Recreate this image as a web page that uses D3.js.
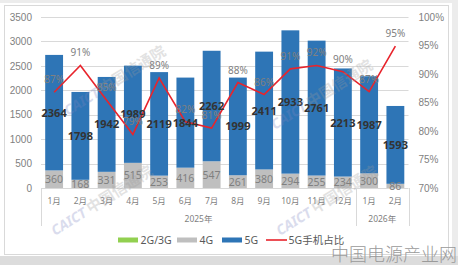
<!DOCTYPE html>
<html>
<head>
<meta charset="utf-8">
<script src="https://cdn.jsdelivr.net/npm/d3@7"></script>
<style>
  body { margin: 0; background: #fff; }
  svg { display: block; font-family: "Noto Sans", "Noto Sans CJK SC", sans-serif; }
</style>
</head>
<body>
<div id="chart"></div>
<script>
// data
const months = ["1月", "2月", "3月", "4月", "5月", "6月", "7月", "8月", "9月", "10月", "11月", "12月", "1月", "2月"];
const yearLabels = ["2025年", "2026年"];
const yearSpans = [[0, 11], [12, 13]];
const g23 = [0, 0, 0, 0, 0, 0, 0, 0, 0, 0, 0, 0, 0, 0];
const g4 = [360, 168, 331, 515, 253, 416, 547, 261, 380, 294, 255, 234, 300, 86];
const g5 = [2364, 1798, 1942, 1989, 2119, 1844, 2262, 1999, 2411, 2933, 2761, 2213, 1987, 1593];
const share = [86.8, 91.5, 85.4, 79.4, 89.3, 81.6, 80.5, 88.5, 86.4, 90.9, 91.5, 90.4, 86.9, 94.9];
const shareLabels = ["87%", "91%", "85%", "79%", "89%", "82%", "81%", "88%", "86%", "91%", "92%", "90%", "87%", "95%"];
const leftTicks = [0, 500, 1000, 1500, 2000, 2500, 3000, 3500];
const rightTicks = [70, 75, 80, 85, 90, 95, 100];
const legendNames = ["2G/3G", "4G", "5G", "5G手机占比"];

const W = 458, H = 265;
const colors = { g23: "#92d050", g4: "#bfbfbf", g5: "#2e75b6", line: "#e8242c" };

const svg = d3.select("#chart").append("svg")
    .attr("width", W)
    .attr("height", H);

// frame
svg.append("rect").attr("x", 0).attr("y", 0).attr("width", W).attr("height", H).attr("fill", "#ececec");
svg.append("rect").attr("x", 0).attr("y", 3).attr("width", 452).attr("height", 253).attr("fill", "#fff");
svg.append("rect").attr("x", 4.5).attr("y", 5.5).attr("width", 444).attr("height", 249)
    .attr("fill", "none").attr("stroke", "#d9d9d9");
svg.append("rect").attr("x", 0).attr("y", 256).attr("width", W).attr("height", 9).attr("fill", "#dcdcdc");

const x = d3.scaleBand()
    .domain(d3.range(months.length))
    .range([41, 408.5])
    .paddingInner(0.32)
    .paddingOuter(0.16);

const y = d3.scaleLinear()
    .domain([0, 3500])
    .range([188, 17]);

const y2 = d3.scaleLinear()
    .domain([70, 100])
    .range([188, 17]);

// gridlines
svg.append("g")
    .selectAll("line")
    .data(leftTicks.slice(1))
    .enter()
    .append("line")
    .attr("x1", 41).attr("x2", 408.5)
    .attr("y1", d => Math.round(y(d)) + 0.5)
    .attr("y2", d => Math.round(y(d)) + 0.5)
    .attr("stroke", "#d9d9d9");

// left axis
const leftAxis = svg.append("g")
    .attr("transform", "translate(41,0)")
    .call(d3.axisLeft(y).tickValues(leftTicks).tickSize(0).tickPadding(9).tickFormat(d3.format("d")));
leftAxis.select(".domain").remove();
leftAxis.selectAll("text").attr("fill", "#7f7f7f").style("font-size", "10px");

// right axis
const rightAxis = svg.append("g")
    .attr("transform", "translate(408.5,0)")
    .call(d3.axisRight(y2).tickValues(rightTicks).tickSize(0).tickPadding(10).tickFormat(d => d + "%"));
rightAxis.select(".domain").remove();
rightAxis.selectAll("text").attr("fill", "#7f7f7f").style("font-size", "10px");

// stacked bars
const stackData = months.map((m, i) => ({ i: i, g23: g23[i], g4: g4[i], g5: g5[i] }));
const stack = d3.stack().keys(["g23", "g4", "g5"])(stackData);

svg.append("g")
    .selectAll("g")
    .data(stack)
    .enter()
    .append("g")
    .attr("fill", d => colors[d.key])
    .selectAll("rect")
    .data(d => d)
    .enter()
    .append("rect")
    .attr("x", d => x(d.data.i))
    .attr("y", d => y(d[1]))
    .attr("width", x.bandwidth())
    .attr("height", d => y(d[0]) - y(d[1]));

// x axis base line
svg.append("line")
    .attr("x1", 41).attr("x2", 408.5)
    .attr("y1", 188.5).attr("y2", 188.5)
    .attr("stroke", "#d9d9d9");

// group separators
const seps = [41, x(12) - x.step() * x.paddingInner() / 2, 408.5];
svg.append("g")
    .selectAll("line")
    .data(seps)
    .enter()
    .append("line")
    .attr("x1", d => Math.round(d) + 0.5).attr("x2", d => Math.round(d) + 0.5)
    .attr("y1", 188).attr("y2", 226)
    .attr("stroke", "#d9d9d9");

// month labels
svg.append("g")
    .selectAll("text")
    .data(months)
    .enter()
    .append("text")
    .attr("x", (d, i) => x(i) + x.bandwidth() / 2)
    .attr("y", 204)
    .attr("text-anchor", "middle")
    .attr("fill", "#7f7f7f")
    .style("font-size", "8.5px")
    .text(d => d);

// year labels
svg.append("g")
    .selectAll("text")
    .data(yearLabels)
    .enter()
    .append("text")
    .attr("x", (d, k) => (x(yearSpans[k][0]) + x(yearSpans[k][1]) + x.bandwidth()) / 2)
    .attr("y", 222)
    .attr("text-anchor", "middle")
    .attr("fill", "#7f7f7f")
    .style("font-size", "8.5px")
    .text(d => d);

// 5G share line
const line = d3.line()
    .x((d, i) => x(i) + x.bandwidth() / 2)
    .y(d => y2(d));

svg.append("path")
    .datum(share)
    .attr("fill", "none")
    .attr("stroke", colors.line)
    .attr("stroke-width", 1.6)
    .attr("d", line);

// 4G labels
svg.append("g")
    .selectAll("text")
    .data(g4)
    .enter()
    .append("text")
    .attr("x", (d, i) => x(i) + x.bandwidth() / 2)
    .attr("y", (d, i) => (y(g23[i]) + y(g23[i] + d)) / 2 + 4)
    .attr("text-anchor", "middle")
    .attr("fill", "#7f7f7f")
    .style("font-size", "10.5px")
    .text(d => d);

// 5G labels
svg.append("g")
    .selectAll("text")
    .data(g5)
    .enter()
    .append("text")
    .attr("x", (d, i) => x(i) + x.bandwidth() / 2)
    .attr("y", (d, i) => (y(g23[i] + g4[i]) + y(g23[i] + g4[i] + d)) / 2 + 4)
    .attr("text-anchor", "middle")
    .attr("fill", "#333")
    .style("font-size", "11px")
    .style("font-weight", "bold")
    .text(d => d);

// share labels
svg.append("g")
    .selectAll("text")
    .data(shareLabels)
    .enter()
    .append("text")
    .attr("x", (d, i) => x(i) + x.bandwidth() / 2)
    .attr("y", (d, i) => y2(share[i]) - 9)
    .attr("text-anchor", "middle")
    .attr("fill", "#808080")
    .style("font-size", "10px")
    .text(d => d);

// legend
const legend = svg.append("g").attr("transform", "translate(0,240)");
const legendX = [118, 177, 222, 266];
const legendColors = [colors.g23, colors.g4, colors.g5, colors.line];
legendNames.forEach((name, k) => {
    if (k < 3) {
        legend.append("rect")
            .attr("x", legendX[k]).attr("y", -2.5)
            .attr("width", 20).attr("height", 5)
            .attr("fill", legendColors[k]);
    } else {
        legend.append("line")
            .attr("x1", legendX[k]).attr("x2", legendX[k] + 21)
            .attr("y1", 0).attr("y2", 0)
            .attr("stroke", legendColors[k]).attr("stroke-width", 1.6);
    }
    legend.append("text")
        .attr("x", legendX[k] + 22.5)
        .attr("y", 4)
        .attr("fill", "#595959")
        .style("font-size", "10.5px")
        .text(name);
});

// CAICT watermarks
const marks = [[55, 236], [280, 236], [68, 116], [275, 130]];
marks.forEach(p => {
    const t = svg.append("text")
        .attr("transform", "translate(" + p[0] + "," + p[1] + ") rotate(-32)")
        .attr("opacity", 0.28)
        .style("font-weight", "bold");
    t.append("tspan").attr("fill", "#7d86c0").style("font-size", "14px").style("font-style", "italic").text("CAICT");
    t.append("tspan").attr("fill", "#9a9a9a").attr("dx", 3).style("font-size", "15px").text("中国信通院");
});

// site watermark
svg.append("text")
    .attr("x", 457)
    .attr("y", 261)
    .attr("text-anchor", "end")
    .attr("fill", "#9a9a9a")
    .style("font-family", "'Noto Sans CJK SC', sans-serif")
    .style("font-size", "18px")
    .style("font-weight", "300")
    .text("中国电源产业网");
</script>
</body>
</html>
